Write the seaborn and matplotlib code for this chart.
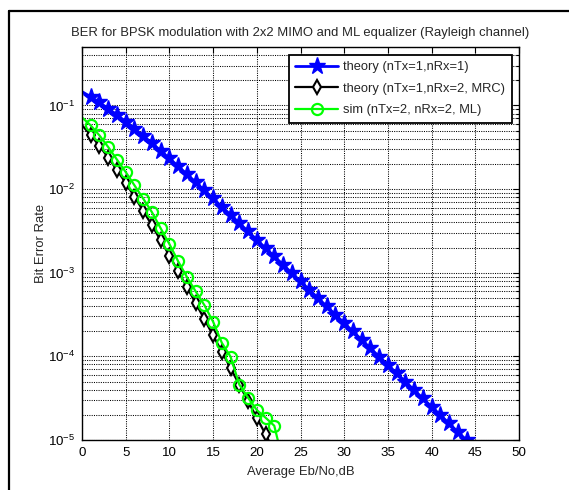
import matplotlib
matplotlib.use("Agg")
import matplotlib.pyplot as plt
import seaborn as sns
from matplotlib.lines import Line2D
from matplotlib.ticker import LogLocator, LogFormatterMathtext, NullFormatter

# ---- data -------------------------------------------------------------
ebno_1x1 = list(range(0, 45))
ber_theory_1x1 = [
    0.1464, 0.1267, 0.1085, 0.0919, 0.0771, 0.0642, 0.0530, 0.0435, 0.0355, 0.0288,
    0.0233, 0.0188, 0.0151, 0.0121, 0.00967, 0.00772, 0.00617, 0.00492, 0.00392, 0.00312,
    0.00248, 0.00197, 0.00157, 0.00125, 0.000993, 0.000789, 0.000627, 0.000499, 0.000396, 0.000315,
    0.000250, 0.000199, 0.000158, 0.000125, 9.95e-5, 7.91e-5, 6.28e-5, 4.99e-5, 3.96e-5, 3.15e-5,
    2.50e-5, 1.99e-5, 1.58e-5, 1.25e-5, 9.95e-6,
]

ebno_mrc = list(range(0, 23))
ber_theory_mrc = [
    0.05806, 0.04411, 0.03276, 0.02379, 0.01693, 0.01183, 0.008129, 0.005506, 0.003683, 0.002438,
    0.001599, 0.0010415, 0.000674, 0.0004343, 0.0002784, 0.0001779, 0.0001136, 7.22e-5, 4.586e-5,
    2.910e-5, 1.844e-5, 1.1675e-5, 7.386e-6,
]

ebno_ml = list(range(0, 24))
ber_sim_ml = [
    0.072, 0.0577, 0.0438, 0.0318, 0.0225, 0.0160, 0.0111, 0.0077, 0.0053, 0.0034,
    0.0022, 0.00137, 0.00089, 0.00060, 0.00041, 0.00026, 0.000145, 9.9e-5, 4.6e-5, 3.2e-5,
    2.28e-5, 1.85e-5, 1.48e-5, 5.5e-6,
]

series_labels = [
    "theory (nTx=1,nRx=1)",
    "theory (nTx=1,nRx=2, MRC)",
    "sim (nTx=2, nRx=2, ML)",
]
title_text = "BER for BPSK modulation with 2x2 MIMO and ML equalizer (Rayleigh channel)"
x_label = "Average Eb/No,dB"
y_label = "Bit Error Rate"
x_ticks = list(range(0, 51, 5))

# ---- style ------------------------------------------------------------
sns.set_style("white")
plt.rcParams["font.family"] = ["Liberation Sans", "DejaVu Sans"]
plt.rcParams["mathtext.fontset"] = "custom"
plt.rcParams["mathtext.rm"] = "Liberation Sans"
plt.rcParams["mathtext.it"] = "Liberation Sans:italic"
plt.rcParams["mathtext.bf"] = "Liberation Sans:bold"

fig = plt.figure(figsize=(5.69, 4.90), dpi=100)
fig.patch.set_facecolor("white")
ax = fig.add_axes([82 / 569, 1 - 440 / 490, (519 - 82) / 569, (440 - 47) / 490])

styles = [
    dict(color="#0000ff", marker="*", markersize=12.5, markerfacecolor="#0000ff",
         markeredgecolor="#0000ff", markeredgewidth=1.0, lw=2.0),
    dict(color="black", marker="d", markersize=7, markerfacecolor="white",
         markeredgecolor="black", markeredgewidth=1.5, lw=1.6),
    dict(color="#00ff00", marker="o", markersize=8, markerfacecolor="none",
         markeredgecolor="#00ff00", markeredgewidth=1.6, lw=1.6),
]
series = [
    (ebno_1x1, ber_theory_1x1),
    (ebno_mrc, ber_theory_mrc),
    (ebno_ml, ber_sim_ml),
]

for (xs, ys), st in zip(series, styles):
    sns.lineplot(x=xs, y=ys, ax=ax, markevery=slice(1, None), **st)

ax.set_yscale("log")
ax.set_xlim(0, 50)
ax.set_ylim(1e-5, 0.5)

ax.set_xticks(x_ticks)
ax.yaxis.set_major_locator(LogLocator(base=10, numticks=10))
ax.yaxis.set_major_formatter(LogFormatterMathtext())
ax.yaxis.set_minor_locator(LogLocator(base=10, subs=range(2, 10), numticks=20))
ax.yaxis.set_minor_formatter(NullFormatter())

dots = (0, (1, 1.2))
ax.grid(True, which="major", axis="both", color="black", linestyle=dots, lw=0.75)
ax.grid(True, which="minor", axis="y", color="black", linestyle=dots, lw=0.75)
ax.set_axisbelow(True)

ax.tick_params(which="both", direction="in", top=True, right=True, colors="black",
               labelsize=9.6, width=0.8)
ax.tick_params(which="major", length=4, pad=5)
ax.tick_params(which="minor", length=2)
for sp in ax.spines.values():
    sp.set_color("black")
    sp.set_linewidth(1.0)

ax.set_title(title_text, fontsize=9.4, pad=8)
ax.set_xlabel(x_label, fontsize=9.4)
ax.set_ylabel(y_label, fontsize=9.4)
ax.xaxis.set_label_coords(0.5, -0.066)
ax.yaxis.set_label_coords(-0.08, 0.5)

handles = [Line2D([], [], **st) for st in styles]
leg = ax.legend(handles, series_labels, loc="upper right", bbox_to_anchor=(0.983, 0.98),
                borderaxespad=0, fontsize=9.3, handlelength=3.3, handletextpad=0.4,
                labelspacing=0.72, borderpad=0.5, frameon=True, fancybox=False,
                framealpha=1, edgecolor="black")
leg.get_frame().set_linewidth(1.3)

# outer frame along the left and top of the figure
fig.add_artist(Line2D([9 / 569, 9 / 569], [0, 1 - 11 / 490], transform=fig.transFigure,
                      color="black", lw=1.6))
fig.add_artist(Line2D([9 / 569, 1], [1 - 11 / 490, 1 - 11 / 490], transform=fig.transFigure,
                      color="black", lw=1.6))

fig.savefig("out.png", dpi=100, facecolor="white")
